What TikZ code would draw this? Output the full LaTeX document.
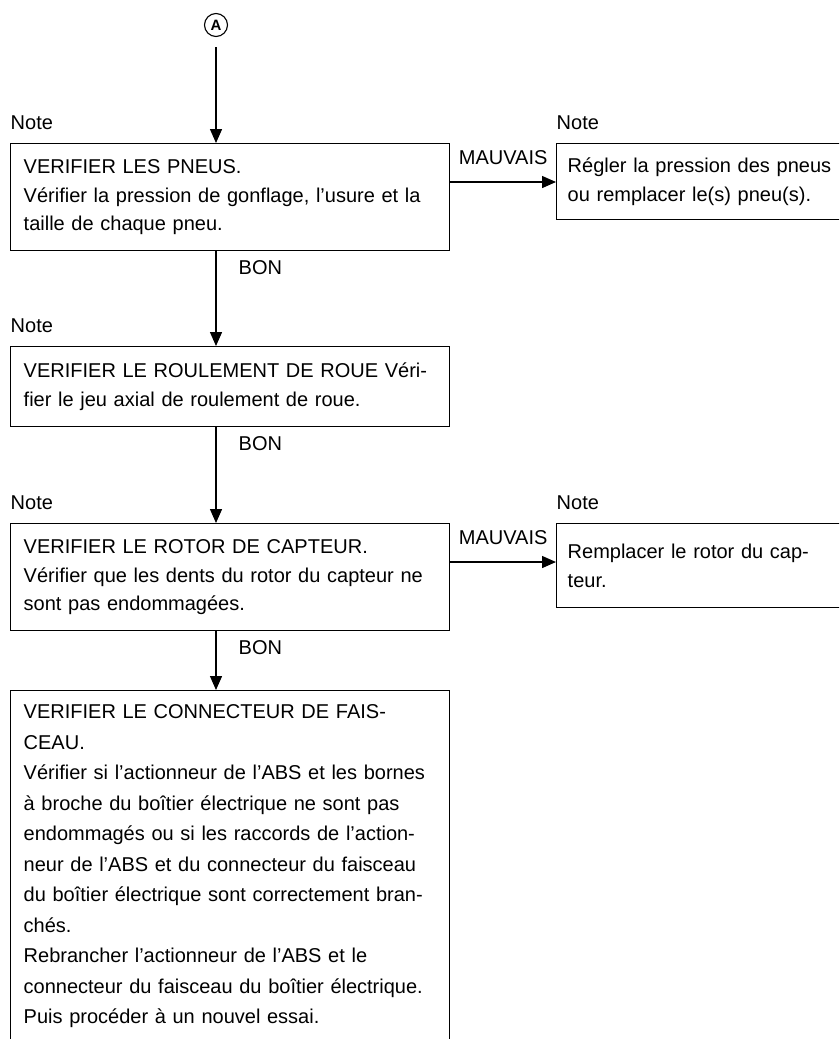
\documentclass[tikz,border=0pt]{standalone}
\usepackage{fontspec}
\setmainfont{Liberation Sans}
\usetikzlibrary{arrows.meta,positioning}
\begin{document}
\begin{tikzpicture}[x=1pt, y=-1pt, >={Triangle[width=12pt,length=14pt]},
	font=\fontsize{20}{28.3}\selectfont, line width=1.4pt,
	box/.style={draw, align=left, anchor=north west, inner xsep=13pt, inner ysep=0pt, text width=413pt},
	rbox/.style={draw, align=left, anchor=north west, inner xsep=11pt, inner ysep=0pt, text width=300pt},
	note/.style={anchor=base west, inner sep=0pt},
	lbl/.style={inner sep=0pt}]
	% Cadre de la page
	\useasboundingbox (0,0) rectangle (839,1039);
	\clip (0,0) rectangle (839,1039);
	% Coins des cases
	\path
	(10,143) coordinate (P1)
	(10,346) coordinate (P2)
	(10,523) coordinate (P3)
	(10,690) coordinate (P4)
	(556,143) coordinate (Q1)
	(556,523) coordinate (Q3);
	% Repère A
	\node[draw, circle, minimum size=23pt, inner sep=0pt, line width=1.1pt,
		font=\bfseries\fontsize{15}{15}\selectfont] (A) at (216,25) {A};
	% Cases de gauche
	\node[box, minimum height=107pt] (pneus) at (P1) {VERIFIER LES PNEUS.\\
		Vérifier la pression de gonflage, l’usure et la\\
		taille de chaque pneu.};
	\node[box, minimum height=80pt] (roul) at (P2) {VERIFIER LE ROULEMENT DE ROUE Véri-\\
		fier le jeu axial de roulement de roue.};
	\node[box, minimum height=107pt] (rotor) at (P3) {VERIFIER LE ROTOR DE CAPTEUR.\\
		Vérifier que les dents du rotor du capteur ne\\
		sont pas endommagées.};
	\node[box, inner ysep=14pt, font=\fontsize{20}{30.5}\selectfont] (conn) at (P4) {VERIFIER LE CONNECTEUR DE FAIS-\\
		CEAU.\\
		Vérifier si l’actionneur de l’ABS et les bornes\\
		à broche du boîtier électrique ne sont pas\\
		endommagés ou si les raccords de l’action-\\
		neur de l’ABS et du connecteur du faisceau\\
		du boîtier électrique sont correctement bran-\\
		chés.\\
		Rebrancher l’actionneur de l’ABS et le\\
		connecteur du faisceau du boîtier électrique.\\
		Puis procéder à un nouvel essai.\\[80pt]\mbox{}};
	% Cases de droite
	\node[rbox, minimum height=76pt] (regler) at (Q1) {Régler la pression des pneus\\
		ou remplacer le(s) pneu(s).};
	\node[rbox, minimum height=84pt] (rempl) at (Q3) {Remplacer le rotor du cap-\\
		teur.};
	% Notes
	\foreach \b in {pneus, roul, rotor, regler, rempl}
	\node[note] at ([yshift=14pt]\b.north west) {Note};
	% Flèches verticales
	\draw[->, shorten <=10pt] (A) -- (pneus.north -| A);
	\foreach \u/\v in {pneus/roul, roul/rotor, rotor/conn}
	\draw[->] (\u.south -| A) -- node[lbl, pos=0, anchor=north west, xshift=22pt, yshift=-8pt] {BON} (\v.north -| A);
	% Flèches MAUVAIS
	\foreach \u/\v in {pneus/regler, rotor/rempl}
	\draw[->] ([yshift=-39pt]\u.north east) -- node[lbl, above=17pt] {MAUVAIS} ([yshift=-39pt]\u.north east -| \v.west);
\end{tikzpicture}
\end{document}
